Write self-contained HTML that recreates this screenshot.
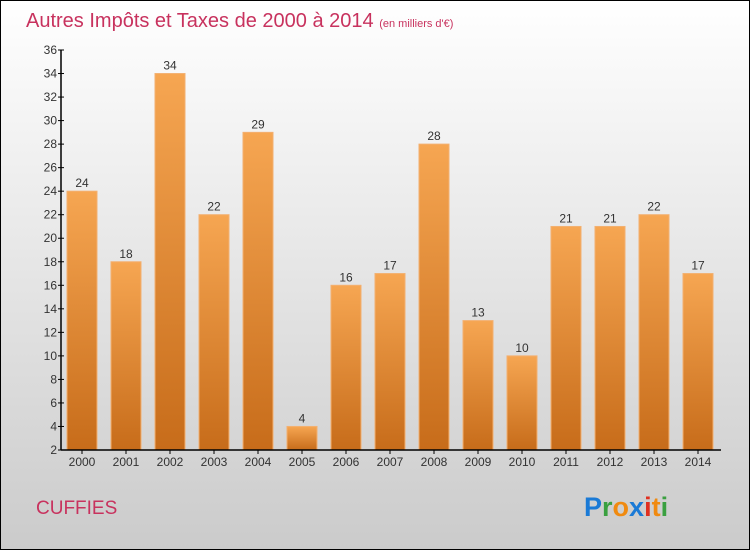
<!DOCTYPE html>
<html><head><meta charset="utf-8"><style>
body{margin:0}
svg{display:block;font-family:"Liberation Sans","DejaVu Sans",sans-serif}
</style></head><body>
<svg width="750" height="550" viewBox="0 0 750 550">
<defs>
<linearGradient id="bg" x1="0" y1="0" x2="0" y2="1"><stop offset="0" stop-color="#ffffff"/><stop offset="1" stop-color="#cbcbcb"/></linearGradient>
<linearGradient id="bar" x1="0" y1="0" x2="0" y2="1"><stop offset="0" stop-color="#f6a652"/><stop offset="1" stop-color="#c76c1a"/></linearGradient>
</defs>
<rect x="0.5" y="0.5" width="749" height="549" fill="url(#bg)" stroke="#000"/>
<text x="26" y="27" font-size="20" fill="#c8325e">Autres Impôts et Taxes de 2000 à 2014 <tspan font-size="11">(en milliers d'€)</tspan></text>
<g id="plot"></g>
<text x="36" y="514" font-size="19" fill="#c8325e">CUFFIES</text>
<text x="584" y="516" font-size="27" font-weight="bold"><tspan fill="#1a7ad6">P</tspan><tspan fill="#3aa040">r</tspan><tspan fill="#f08a10">o</tspan><tspan fill="#1a7ad6">x</tspan><tspan fill="#e03020">i</tspan><tspan fill="#f08a10">t</tspan><tspan fill="#3aa040">i</tspan></text>
</svg>
<script>
const years=["2000","2001","2002","2003","2004","2005","2006","2007","2008","2009","2010","2011","2012","2013","2014"];
const values=[24,18,34,22,29,4,16,17,28,13,10,21,21,22,17];
const yTicks=[2,4,6,8,10,12,14,16,18,20,22,24,26,28,30,32,34,36];
const NS="http://www.w3.org/2000/svg";
const g=document.getElementById('plot');
const yMin=2,yMax=36,y0=450,y1=50;
function yScale(v){return y0-(v-yMin)/(yMax-yMin)*(y0-y1);}
function xScale(i){return 82+i*44;}
function mk(t,a){const e=document.createElementNS(NS,t);for(const k in a)e.setAttribute(k,a[k]);g.appendChild(e);return e;}
values.forEach((v,i)=>{
 const r=mk('rect',{x:xScale(i)-15,y:yScale(v),width:30,height:y0-yScale(v),fill:'url(#bar)',stroke:'#f3b070','stroke-width':1});
 
 
 const t=mk('text',{x:xScale(i),y:yScale(v)-4,'font-size':12,fill:'#333','text-anchor':'middle'});
 t.textContent=v;
 
 
 const xl=mk('text',{x:xScale(i),y:466,'font-size':12,fill:'#333','text-anchor':'middle'});
 xl.textContent=years[i];
 
 
 const xt=mk('line',{x1:xScale(i),x2:xScale(i),y1:y0,y2:y0+4,stroke:'#000'});
 
 
});
yTicks.forEach(v=>{
 const t=mk('text',{x:57,y:yScale(v)+4,'font-size':12,fill:'#333','text-anchor':'end'});
 t.textContent=v;
 
 
 const l=mk('line',{x1:58,x2:64,y1:yScale(v),y2:yScale(v),stroke:'#000'});
 
 
});
const ya=mk('line',{x1:61,x2:61,y1:y1,y2:y0,stroke:'#000','stroke-width':1.5});


const xa=mk('line',{x1:61,x2:721,y1:y0,y2:y0,stroke:'#000','stroke-width':1.5});


</script>
</body></html>
